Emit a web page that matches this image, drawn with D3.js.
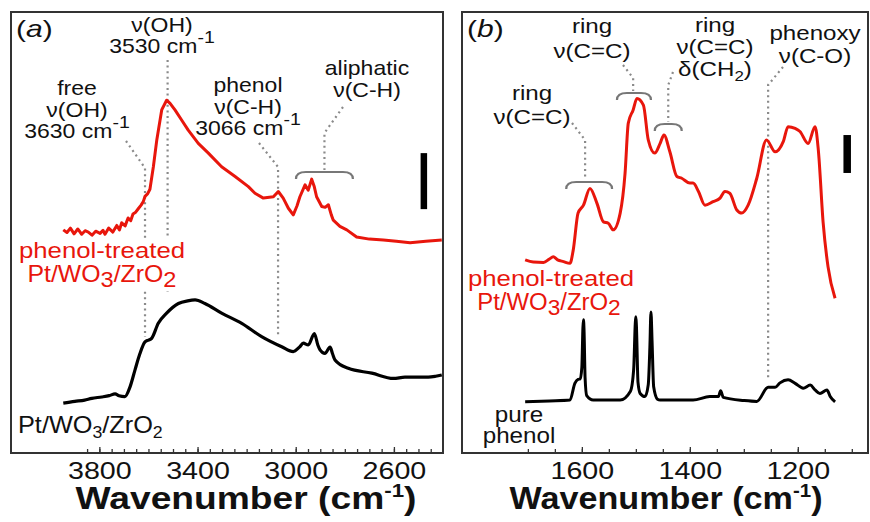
<!DOCTYPE html>
<html lang="en">
<head>
<meta charset="UTF-8">
<title>IR spectra of phenol-treated Pt/WO3/ZrO2</title>
<script src="https://d3js.org/d3.v7.min.js"></script>
<style>
  body { margin: 0; background: #fff; }
  svg { display: block; font-family: "Liberation Sans", Arial, sans-serif; }
</style>
</head>
<body>
<svg id="chart" width="870" height="522"></svg>
<script>
// ---- data: [wavenumber (cm-1), absorbance (arb. units, offset)] ----
const treatedOH = [
  [3947,5.06],[3932,5.00],[3918,5.10],[3903,4.97],[3888,5.08],[3872,4.96],[3858,5.04],[3845,5.01],
  [3830,4.94],[3815,5.03],[3797,4.98],[3785,5.05],[3777,4.96],[3762,5.10],[3745,5.01],[3729,5.16],
  [3718,5.06],[3709,5.22],[3695,5.15],[3683,5.33],[3672,5.27],[3663,5.42],[3652,5.46],[3640,5.55],
  [3630,5.62],[3621,5.70],[3614,5.82],[3603,5.88],[3594,5.98],[3580,6.49],[3566,7.10],[3546,7.78],
  [3526,8.00],[3512,7.93],[3492,7.78],[3465,7.55],[3438,7.32],[3397,7.02],[3356,6.80],[3302,6.49],
  [3247,6.27],[3193,6.04],[3166,5.89],[3132,5.78],[3091,5.81],[3071,5.93],[3051,5.78],[3030,5.55],
  [3010,5.40],[2995,5.60],[2983,5.81],[2962,6.08],[2949,5.96],[2935,6.21],[2925,6.05],[2915,5.81],
  [2894,5.59],[2880,5.57],[2867,5.63],[2855,5.40],[2847,5.28],[2820,5.14],[2792,5.06],[2752,4.90],
  [2700,4.85],[2643,4.83],[2590,4.80],[2534,4.77],[2470,4.80],[2405,4.83]
];
const catalystOH = [
  [3947,1.13],[3900,1.17],[3860,1.20],[3831,1.24],[3790,1.27],[3760,1.30],[3736,1.34],[3720,1.30],
  [3696,1.28],[3675,1.50],[3655,1.88],[3635,2.25],[3614,2.52],[3600,2.56],[3587,2.60],[3560,2.94],
  [3526,3.17],[3478,3.39],[3440,3.45],[3410,3.47],[3370,3.39],[3302,3.17],[3220,2.94],[3139,2.64],
  [3057,2.41],[3010,2.30],[2985,2.40],[2969,2.49],[2949,2.45],[2924,2.71],[2910,2.45],[2901,2.34],
  [2881,2.26],[2860,2.40],[2850,2.25],[2840,2.11],[2786,1.92],[2690,1.81],[2602,1.69],[2555,1.72],
  [2460,1.72],[2430,1.74],[2405,1.77]
];
const treatedFP = [
  [1705,4.38],[1690,4.33],[1671,4.32],[1660,4.40],[1653,4.45],[1645,4.38],[1634,4.34],[1622,4.30],
  [1616,4.60],[1607,5.44],[1597,5.62],[1585,6.00],[1572,5.66],[1560,5.24],[1551,5.21],[1542,5.06],
  [1529,5.44],[1520,6.34],[1514,7.48],[1505,7.78],[1498,8.04],[1486,7.89],[1477,7.10],[1465,6.80],
  [1455,7.02],[1448,7.21],[1437,6.83],[1424,6.27],[1415,6.23],[1400,6.12],[1394,6.12],[1384,5.93],
  [1372,5.62],[1357,5.70],[1344,5.78],[1335,5.93],[1326,5.89],[1313,5.51],[1304,5.44],[1292,5.62],
  [1276,6.23],[1258,7.10],[1242,6.83],[1227,7.06],[1218,7.40],[1205,7.36],[1196,7.29],[1181,7.02],
  [1168,7.40],[1162,6.87],[1153,5.21],[1144,4.22],[1131,3.51]
];
const purePhenol = [
  [1705,1.16],[1660,1.18],[1622,1.20],[1613,1.58],[1607,1.67],[1603,1.68],[1600,1.95],[1598,2.85],
  [1597,3.02],[1596,2.80],[1594,1.70],[1591,1.30],[1579,1.20],[1529,1.20],[1510,1.40],[1504,1.90],
  [1501,2.95],[1500,3.09],[1499,2.90],[1496,1.60],[1492,1.35],[1483,1.28],[1477,1.55],[1474,2.40],
  [1472,3.20],[1470,2.55],[1467,1.50],[1460,1.22],[1455,1.20],[1394,1.20],[1363,1.28],[1347,1.28],
  [1343,1.41],[1338,1.26],[1300,1.19],[1276,1.17],[1255,1.49],[1242,1.49],[1233,1.59],[1218,1.66],
  [1205,1.58],[1190,1.47],[1177,1.54],[1168,1.43],[1159,1.35],[1146,1.43],[1140,1.28],[1131,1.16]
];
const ticksA = [3800, 3400, 3000, 2600];
const ticksB = [1600, 1400, 1200];
const markA = [3614, 3522, 3072];   // free OH, OH, phenol C-H
const markB = [1594, 1505, 1440, 1255];

// ---- layout ----
const svg = d3.select("#chart");
const yTop = 12, yBot = 453;
const y = d3.scaleLinear().domain([0, 10]).range([yBot, yTop]);
const xA = d3.scaleLinear().domain([4160, 2400]).range([11, 443]);
const xB = d3.scaleLinear().domain([1822, 1070]).range([462, 868]);
const RED = "#e8160c", INK = "#111", DOT = "#8a8a8a";
const SX = 1.15; // glyphs in the figure are a bit wider than Arial

function label(g, x, yb, parts, o = {}) {
  const size = o.size || 20;
  const t = g.append("text")
    .attr("transform", `translate(${x},${yb}) scale(${o.sx || SX},1)`)
    .attr("text-anchor", o.anchor || "middle")
    .attr("font-size", size)
    .attr("font-weight", o.weight || "normal")
    .attr("fill", o.color || INK);
  let shift = 0;
  parts.forEach(p => {
    if (typeof p === "string") p = { t: p };
    const want = p.sup ? -(o.rise || 9) : p.sub ? (o.drop || 5) : 0;
    const s = t.append("tspan").attr("dy", want - shift).text(p.t);
    if (p.sup || p.sub) s.attr("font-size", size * (p.k || 0.75));
    if (p.it) s.attr("font-style", "italic");
    shift = want;
  });
  return t;
}
function lines(g, x, yb, rows, gap, o) {
  rows.forEach((r, i) => label(g, x, yb + i * gap, r, o));
}
function leader(g, pts) {
  g.append("path").attr("d", d3.line()(pts))
    .attr("fill", "none").attr("stroke", DOT).attr("stroke-width", 2.2)
    .attr("stroke-dasharray", "2,3.6");
}
function bracket(g, x0, x1, yy) {
  const r = 7;
  g.append("path")
    .attr("d", `M${x0},${yy + r} Q${x0},${yy} ${x0 + r + 3},${yy} L${x1 - r - 3},${yy} Q${x1},${yy} ${x1},${yy + r}`)
    .attr("fill", "none").attr("stroke", "#777").attr("stroke-width", 2.2);
}
function axis(g, x, major, minor) {
  g.append("g").attr("transform", `translate(0,${yBot})`)
    .call(d3.axisBottom(x).tickValues(minor).tickSize(-4).tickFormat(""))
    .call(s => s.select(".domain").remove())
    .selectAll("line").attr("stroke", "#333").attr("stroke-width", 1.3);
  const ax = g.append("g").attr("transform", `translate(0,${yBot})`)
    .call(d3.axisBottom(x).tickValues(major).tickSize(-6).tickPadding(9).tickFormat(d3.format("d")));
  ax.select(".domain").remove();
  ax.selectAll("line").attr("stroke", "#333").attr("stroke-width", 1.3);
  ax.selectAll("text").attr("font-size", 24.5).attr("fill", INK)
    .attr("font-family", "Liberation Sans, Arial, sans-serif")
    .attr("transform", `scale(1.17,1)`).attr("dy", "0.71em");
}
const lineA = d3.line().x(d => xA(d[0])).y(d => y(d[1]));
const lineB = d3.line().curve(d3.curveMonotoneX).x(d => xB(d[0])).y(d => y(d[1]));

// =========== panel (a) ===========
const ga = svg.append("g");
axis(ga, xA, ticksA, d3.range(3850, 2449, -50));

leader(ga, [[126, 141], [xA(markA[0]), 168], [xA(markA[0]), 337]]);
leader(ga, [[xA(markA[1]), 60], [xA(markA[1]), 295]]);
leader(ga, [[259, 143], [xA(markA[2]), 167], [xA(markA[2]), 335]]);
leader(ga, [[343, 107], [xA(2883), 133], [xA(2883), 170]]);
bracket(ga, xA(2999), xA(2767), 172);

ga.append("rect").attr("x", 17).attr("y", 238).attr("width", 171).attr("height", 53).attr("fill", "#fff");
label(ga, 102, 258, ["phenol-treated"], { size: 23, color: RED, sx: 1.12 });
label(ga, 102, 282, ["Pt/WO", { t: "3", sub: true, k: 0.95 }, "/ZrO", { t: "2", sub: true, k: 0.95 }],
  { size: 23, color: RED, sx: 1.08, drop: 5 });
label(ga, 18, 433, ["Pt/WO", { t: "3", sub: true, k: 0.7 }, "/ZrO", { t: "2", sub: true, k: 0.7 }],
  { size: 23, anchor: "start", sx: 1.1, drop: 5 });

ga.append("path").datum(treatedOH).attr("d", lineA)
  .attr("fill", "none").attr("stroke", RED).attr("stroke-width", 3).attr("stroke-linejoin", "round");
ga.append("path").datum(catalystOH).attr("d", lineA.curve(d3.curveMonotoneX))
  .attr("fill", "none").attr("stroke", "#000").attr("stroke-width", 3.2).attr("stroke-linejoin", "round");

ga.append("rect").attr("x", xA(2479) - 3).attr("y", y(6.80)).attr("width", 6.5)
  .attr("height", y(5.53) - y(6.80)).attr("fill", "#000");

label(ga, 16, 37, ["(", { t: "a", it: true }, ")"], { size: 24, anchor: "start", sx: 1.25 });
lines(ga, 162, 32, [["ν(OH)"], ["3530 cm", { t: "-1", sup: true, k: 0.85 }]], 21, { size: 20, rise: 10 });
lines(ga, 77, 95, [["free"], ["ν(OH)"], ["3630 cm", { t: "-1", sup: true, k: 0.85 }]], 21.5, { size: 20, rise: 10 });
lines(ga, 248, 92, [["phenol"], ["ν(C-H)"], ["3066 cm", { t: "-1", sup: true, k: 0.85 }]], 21.5, { size: 20, rise: 10 });
lines(ga, 367, 75, [["aliphatic"], ["ν(C-H)"]], 22, { size: 20 });

ga.append("rect").attr("x", 11).attr("y", yTop).attr("width", 432).attr("height", yBot - yTop)
  .attr("fill", "none").attr("stroke", "#333").attr("stroke-width", 2);
label(ga, 246, 509, ["Wavenumber (cm", { t: "-1", sup: true, k: 0.6 }, ")"],
  { size: 30.5, weight: "bold", sx: 1.22, rise: 12 });

// =========== panel (b) ===========
const gb = svg.append("g");
axis(gb, xB, ticksB, d3.range(1700, 1099, -50));

leader(gb, [[572, 123], [xB(markB[0]), 140], [xB(markB[0]), 180]]);
bracket(gb, xB(1629), xB(1544), 182);
leader(gb, [[623, 65], [xB(markB[1]), 78], [xB(markB[1]), 91]]);
bracket(gb, xB(1535), xB(1472), 93);
leader(gb, [[673, 72], [xB(markB[2]), 85], [xB(markB[2]), 122]]);
bracket(gb, xB(1465), xB(1415), 124);
leader(gb, [[783, 67], [xB(markB[3]), 85], [xB(markB[3]), 378]]);

gb.append("path").datum(treatedFP).attr("d", lineB)
  .attr("fill", "none").attr("stroke", RED).attr("stroke-width", 3).attr("stroke-linejoin", "round");
gb.append("path").datum(purePhenol).attr("d", lineB)
  .attr("fill", "none").attr("stroke", "#000").attr("stroke-width", 3).attr("stroke-linejoin", "round");

gb.append("rect").attr("x", xB(1109) - 3.5).attr("y", y(7.21)).attr("width", 7.5)
  .attr("height", y(6.35) - y(7.21)).attr("fill", "#000");

label(gb, 551, 286, ["phenol-treated"], { size: 23, color: RED, sx: 1.12 });
label(gb, 549, 310, ["Pt/WO", { t: "3", sub: true, k: 0.95 }, "/ZrO", { t: "2", sub: true, k: 0.95 }],
  { size: 23, color: RED, sx: 1.04, drop: 5 });
lines(gb, 519, 422, [["pure"], ["phenol"]], 21, { size: 22, sx: 1.1 });

label(gb, 467, 37, ["(", { t: "b", it: true }, ")"], { size: 24, anchor: "start", sx: 1.25 });
lines(gb, 532, 100, [["ring"], ["ν(C=C)"]], 24, { size: 21 });
lines(gb, 592, 33, [["ring"], ["ν(C=C)"]], 25, { size: 21 });
lines(gb, 715, 32, [["ring"], ["ν(C=C)"], ["δ(CH", { t: "2", sub: true, k: 0.7 }, ")"]], 22, { size: 21, drop: 5 });
lines(gb, 815, 40, [["phenoxy"], ["ν(C-O)"]], 23, { size: 21 });

gb.append("rect").attr("x", 462).attr("y", yTop).attr("width", 406).attr("height", yBot - yTop)
  .attr("fill", "none").attr("stroke", "#333").attr("stroke-width", 2);
label(gb, 666, 509, ["Wavenumber (cm", { t: "-1", sup: true, k: 0.6 }, ")"],
  { size: 30.5, weight: "bold", sx: 1.12, rise: 12 });
</script>
</body>
</html>
